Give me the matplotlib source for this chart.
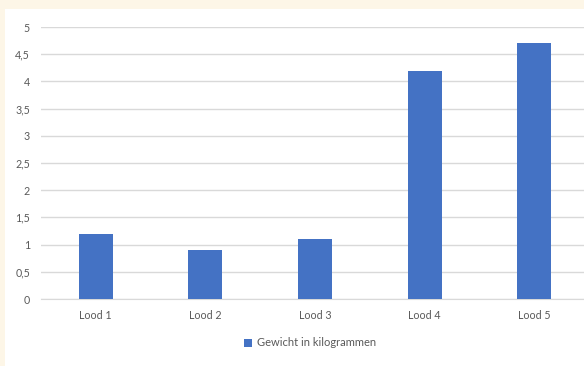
import matplotlib.pyplot as plt
from matplotlib.patches import Rectangle

categories = ["Lood 1", "Lood 2", "Lood 3", "Lood 4", "Lood 5"]
gewicht = [1.2, 0.9, 1.1, 4.2, 4.7]
yticks = [0, 0.5, 1, 1.5, 2, 2.5, 3, 3.5, 4, 4.5, 5]
ylabels = ["0", "0,5", "1", "1,5", "2", "2,5", "3", "3,5", "4", "4,5", "5"]

W, H = 584, 366
fig = plt.figure(figsize=(W / 100, H / 100), dpi=100)
fig.patch.set_facecolor("#fdf6e7")
bg = Rectangle((5 / W, 0), 1, 1 - 9 / H, transform=fig.transFigure,
               facecolor="white", edgecolor="none", zorder=-5)
fig.add_artist(bg)

ax = fig.add_axes([41 / W, (H - 299) / H, 548 / W, 272 / H])
ax.set_zorder(1)
ax.set_facecolor("none")
x = range(len(categories))
ax.bar(x, gewicht, width=0.31, color="#4472c4", zorder=3, label="Gewicht in kilogrammen")
ax.set_xlim(-0.5, 4.5)
ax.set_ylim(0, 5)
ax.set_yticks(yticks)
ax.set_yticklabels(ylabels)
ax.set_xticks(list(x))
ax.set_xticklabels(categories)
ax.grid(axis="y", color="#d9d9d9", linewidth=1, zorder=0)
for s in ["top", "right", "left"]:
    ax.spines[s].set_visible(False)
ax.spines["bottom"].set_color("#d9d9d9")
ax.tick_params(length=0, labelsize=7.7, colors="#595959", pad=8)
for t in ax.get_xticklabels() + ax.get_yticklabels():
    t.set_fontfamily("Lato")

leg = fig.legend(loc="center", bbox_to_anchor=(310 / W, 1 - 343 / H), frameon=False,
                 handlelength=0.7, handleheight=0.7, handletextpad=0.4,
                 prop={"family": "Lato", "size": 8})
for t in leg.get_texts():
    t.set_color("#595959")

fig.savefig("out.png", dpi=100, facecolor=fig.get_facecolor())
